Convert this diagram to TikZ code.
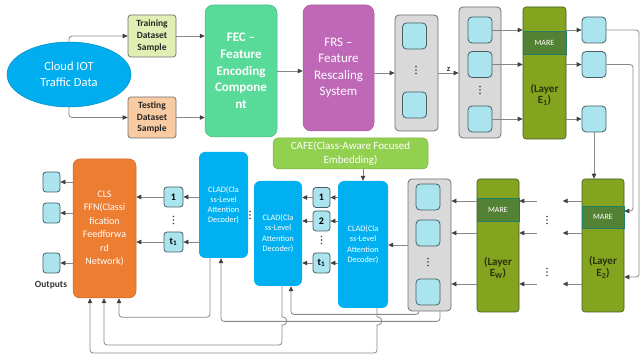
\documentclass[tikz,border=0pt]{standalone}
\usepackage{fontspec}
\setmainfont{Carlito}
\usetikzlibrary{arrows.meta,shapes.geometric,calc}
\definecolor{cloudblue}{RGB}{0,174,239}
\definecolor{trainc}{RGB}{226,239,180}
\definecolor{testc}{RGB}{248,203,162}
\definecolor{fecc}{RGB}{88,218,152}
\definecolor{frsc}{RGB}{192,104,184}
\definecolor{grayfill}{RGB}{217,217,217}
\definecolor{grayedge}{RGB}{110,110,110}
\definecolor{sqfill}{RGB}{170,228,238}
\definecolor{sqedge}{RGB}{70,95,100}
\definecolor{layerc}{RGB}{132,163,30}
\definecolor{marec}{RGB}{84,130,53}
\definecolor{cladc}{RGB}{0,176,240}
\definecolor{cafec}{RGB}{146,208,80}
\definecolor{clsc}{RGB}{237,125,49}
\definecolor{linec}{RGB}{135,135,135}
\definecolor{tipc}{RGB}{64,64,64}
\definecolor{layertxt}{RGB}{45,50,15}
\begin{document}
\begin{tikzpicture}[x=1pt,y=-1pt,
  dsbox/.style={rectangle, rounded corners=3pt, draw=grayedge, line width=0.7pt, inner sep=0pt, align=center, text=black!85, font=\bfseries\fontsize{9.5}{11.7}\selectfont, minimum width=48pt},
  bigbox/.style={rectangle, rounded corners=8pt, inner sep=0pt, align=center, text=white},
  graybox/.style={rectangle, rounded corners=4pt, draw=grayedge, line width=0.8pt, fill=grayfill, inner sep=0pt},
  sq/.style={rectangle, rounded corners=4pt, draw=sqedge, line width=0.8pt, fill=sqfill, minimum width=24pt, minimum height=26pt, inner sep=0pt},
  smallsq/.style={rectangle, rounded corners=3pt, draw=sqedge, line width=0.8pt, fill=sqfill, minimum width=17pt, minimum height=20pt, inner sep=0pt, font=\bfseries\fontsize{10}{12}\selectfont},
  layerbox/.style={rectangle, rounded corners=3pt, draw=marec!70!black, line width=0.6pt, fill=layerc, inner sep=0pt, minimum width=42pt, minimum height=133pt},
  mareband/.style={rectangle, fill=marec, draw=teal!60!marec, line width=0.5pt, text=white, font=\fontsize{8}{9}\selectfont, inner sep=0pt, minimum width=42pt, minimum height=23pt},
  layertext/.style={align=center, text=layertxt, font=\bfseries\fontsize{11}{11.5}\selectfont, inner sep=0pt},
  clad/.style={rectangle, rounded corners=6pt, fill=cladc, text=white, align=center, font=\fontsize{8.3}{10.3}\selectfont, inner sep=0pt},
  arr/.style={draw=linec, line width=0.8pt, -{Triangle[length=5pt,width=4.5pt,color=tipc]}},
  vdts/.pic={\foreach \k in {-3.5,0,3.5} \fill[tipc] (0,\k) circle (0.8pt);}
]
\useasboundingbox (0,0) rectangle (641,358);

% --- top row ---
\node[ellipse, fill=cloudblue, draw=cloudblue!80!black, line width=0.5pt, minimum width=124pt, minimum height=65pt, inner sep=0pt, text=white, align=center, font=\fontsize{12.5}{16}\selectfont] (cloud) at (69,74.5) {Cloud IOT\\Traffic Data};
\node[dsbox, fill=trainc, minimum height=42pt] (train) at (152,36) {Training\\Dataset\\Sample};
\node[dsbox, fill=testc, minimum height=41pt] (test) at (152,117.5) {Testing\\Dataset\\Sample};
\node[bigbox, fill=fecc, draw=fecc!85!black, line width=0.5pt, minimum width=72pt, minimum height=132pt, font=\bfseries\fontsize{13}{16.7}\selectfont] (fec) at (241,71) {FEC –\\Feature\\Encoding\\Compone\\nt};
\node[bigbox, fill=frsc, draw=frsc!85!black, line width=0.5pt, minimum width=71pt, minimum height=126pt, font=\fontsize{13}{16.5}\selectfont] (frs) at (338.5,68) {FRS –\\Feature\\Rescaling\\System};

\node[graybox, minimum width=43pt, minimum height=116pt] (g1) at (416.5,73) {};
\node[sq] (g1a) at (414.5,36) {};
\node[sq] (g1b) at (414.5,105) {};
\pic at (416,70) {vdts};

\node[graybox, minimum width=42pt, minimum height=131pt] (g2) at (480,72.5) {};
\node[sq] (g2a) at (480,30) {};
\node[sq] (g2b) at (480,64.5) {};
\node[sq] (g2c) at (480,119) {};
\pic at (480,90) {vdts};

\node[layerbox, minimum width=43pt, minimum height=132pt] (e1) at (544.5,73) {};
\node[mareband, minimum width=43pt] (e1m) at (544.5,42.5) {MARE};
\node[layertext] (e1t) at (544.5,95) {(Layer\\E\textsubscript{1})};

\node[sq] (o1a) at (594,30) {};
\node[sq] (o1b) at (594,64.5) {};
\node[sq] (o1c) at (594,119) {};

% --- lower right ---
\node[layerbox] (e2) at (603,245.5) {};
\node[mareband, minimum height=22pt] (e2m) at (603,217) {MARE};
\node[layertext] (e2t) at (603,267.5) {(Layer\\E\textsubscript{2})};

\node[layerbox] (ew) at (498,245.5) {};
\node[mareband] (ewm) at (498,209.5) {MARE};
\node[layertext] (ewt) at (498,268) {(Layer\\E\textsubscript{W})};

\node[graybox, minimum width=43pt, minimum height=132pt] (g3) at (429.5,245) {};
\node[sq] (g3a) at (428,197) {};
\node[sq] (g3b) at (428,233) {};
\node[sq] (g3c) at (428,292) {};
\pic at (428,262) {vdts};

\node[rectangle, rounded corners=5pt, fill=cafec, draw=cafec!85!black, line width=0.5pt, minimum width=155pt, minimum height=31pt, inner sep=0pt, align=center, text=white, font=\fontsize{11}{14}\selectfont] (cafe) at (350.5,153.5) {CAFE(Class-Aware Focused\\Embedding)};

\node[clad, minimum width=50pt, minimum height=127pt] (clad3) at (363,244.5) {CLAD(Cla\\ss-Level\\Attention\\Decoder)};
\node[clad, minimum width=48pt, minimum height=105pt] (clad2) at (278,233.5) {CLAD(Cla\\ss-Level\\Attention\\Decoder)};
\node[clad, minimum width=49pt, minimum height=106pt] (clad1) at (223.5,205) {CLAD(Cla\\ss-Level\\Attention\\Decoder)};

\node[smallsq] (n1) at (321.5,197.5) {1};
\node[smallsq] (n2) at (321.5,221) {2};
\node[smallsq] (nt) at (321.5,263) {t\textsubscript{1}};
\pic at (321.5,240) {vdts};
\pic at (250,215) {vdts};

\node[smallsq, minimum width=19pt] (m1) at (173.5,197) {1};
\node[smallsq, minimum width=19pt] (mt) at (173.5,242) {t\textsubscript{1}};
\pic at (173.5,220) {vdts};

\node[rectangle, rounded corners=7pt, fill=clsc, draw=clsc!85!black, line width=0.5pt, minimum width=63pt, minimum height=139pt, inner sep=0pt, align=center, text=white, font=\fontsize{10}{13.4}\selectfont] (cls) at (104.5,228.5) {CLS\\FFN(Classi\\fication\\Feedforwa\\rd\\Network)};

\node[smallsq] (q1) at (51.5,182) {};
\node[smallsq] (q2) at (51.5,213) {};
\node[smallsq] (q3) at (51.5,263) {};
\node[font=\bfseries\fontsize{9.5}{11}\selectfont, text=black!80, inner sep=0pt] (outl) at (51,285) {Outputs};

% --- connectors top ---
\draw[arr, rounded corners=3pt] (cloud.north) |- (train.west);
\draw[arr, rounded corners=3pt] (cloud.south) |- (test.west);
\draw[arr] (train.east) -- (train.east -| fec.west);
\draw[arr] (test.east) -- (test.east -| fec.west);
\draw[arr] (fec.east) -- (fec.east -| frs.west);
\draw[arr] (frs.east |- g1.west) -- (g1.west);
\draw[arr] (g1.east) -- node[above=1pt, font=\bfseries\fontsize{8.5}{9}\selectfont, text=black!80, inner sep=0pt] (zl) {z} (g1.east -| g2.west);
\foreach \s in {a,b,c} {
  \draw[arr] (g2\s.east) -- (g2\s.east -| e1.west);
  \draw[arr] (e1.east |- o1\s.west) -- (o1\s.west);
}
\coordinate (ka) at (633,211);
\coordinate (kb) at (639,277);
\draw[arr, rounded corners=3pt] (o1a.east) -| (kb) -- (kb -| e2.east);
\draw[arr, rounded corners=3pt] (o1b.east) -| (ka) -- (ka -| e2.east);
\draw[arr] (o1c.south) -- (o1c.south |- e2.north);

% --- layer chain ---
\coordinate (ra) at (0,201);
\coordinate (rb) at (0,233);
\coordinate (rc) at (0,284);
\foreach \r in {ra,rb,rc} {
  \draw[arr] (e2.west |- \r) -- ++(-19,0);
  \draw[arr] ($(ew.east |- \r)+(18,0)$) -- (ew.east |- \r);
  \draw[arr] (ew.west |- \r) -- (g3.east |- \r);
}
\pic at (547,220) {vdts};
\pic at (547,272) {vdts};

\draw[arr] (g3.west) -- (g3.west -| clad3.east);
\draw[arr] (cafe.south -| clad3.north) -- (clad3.north);
\foreach \n in {n1,n2,nt} {
  \draw[arr] (\n.east -| clad3.west) -- (\n.east);
  \draw[arr] (\n.west) -- (\n.west -| clad2.east);
}
\foreach \n in {m1,mt} {
  \draw[arr] (\n.east -| clad1.west) -- (\n.east);
  \draw[arr] (\n.west) -- (\n.west -| cls.east);
}
\foreach \n in {q1,q2,q3} {
  \draw[arr] (\n.east -| cls.west) -- (\n.east);
}

% --- bottom feedback connectors ---
\draw[arr, rounded corners=3pt] ([xshift=-10.5pt]g3.south) -- ++(0,3) -| ([xshift=13pt]clad2.south);
\draw[arr, rounded corners=3pt] ([xshift=10.5pt]g3.south) -- ++(0,10) -| ([xshift=-2.5pt]clad1.south);
\draw[arr, rounded corners=3pt] ([xshift=-13.5pt]clad1.south) -- ++(0,59) -| ([xshift=14.5pt]cls.south);
\draw[arr] ([xshift=4pt]clad2.south) -- (282,317) .. controls (288.5,317) and (288.5,325) .. (282,325) [rounded corners=3pt] -- (282,345) -| ([xshift=-0.5pt]cls.south);
\draw[arr] ([xshift=14pt]clad3.south) -- (377,317) .. controls (383.5,317) and (383.5,325) .. (377,325) [rounded corners=3pt] -- (377,353) -| ([xshift=-14.5pt]cls.south);
\end{tikzpicture}
\end{document}
